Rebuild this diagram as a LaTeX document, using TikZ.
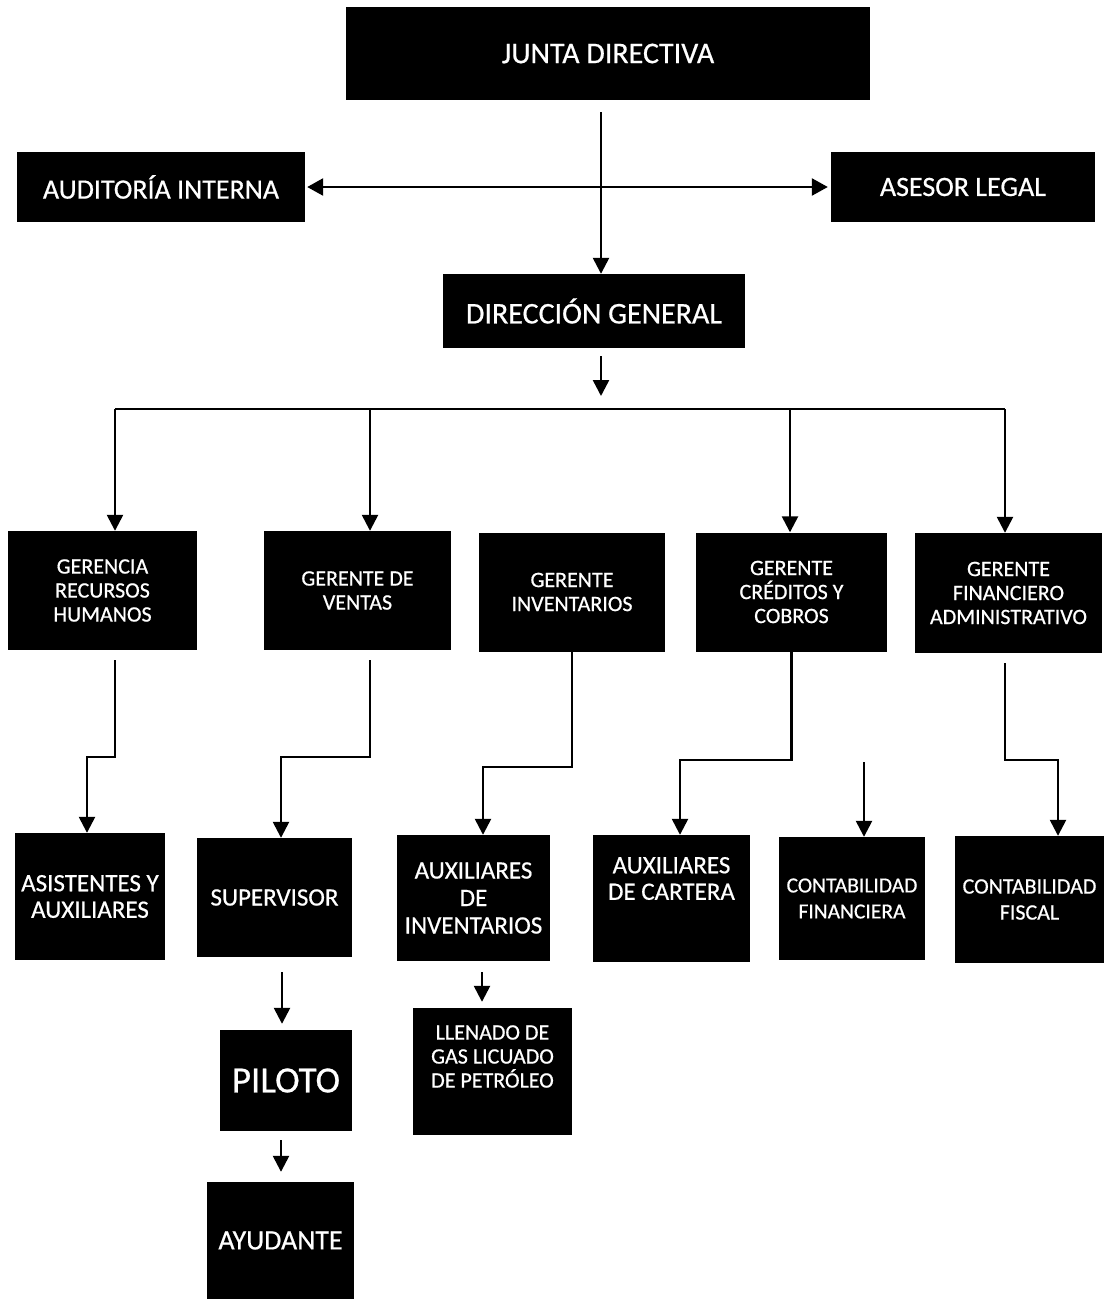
\documentclass[tikz,border=0pt]{standalone}
\usepackage{fontspec}
\setmainfont{Carlito}
\newfontface\boxfont{Carlito}[FakeBold=0.6]
\usetikzlibrary{arrows.meta}
\begin{document}
\begin{tikzpicture}[x=1pt,y=-1pt,
  box/.style={fill=black, text=white, align=center, inner sep=0pt},
  txt/.style={text=white, align=center, inner sep=0pt},
  link/.style={line width=2.5pt, black},
  arr/.style={link, -{Triangle[length=16pt,width=16pt]}},
  biarr/.style={link, {Triangle[length=16pt,width=17pt]}-{Triangle[length=16pt,width=17pt]}},
  fA/.style={font=\boxfont\fontsize{30}{32}\selectfont},
  fB/.style={font=\boxfont\fontsize{28}{30}\selectfont},
  fC/.style={font=\boxfont\fontsize{22}{24}\selectfont},
  fD/.style={font=\boxfont\fontsize{25}{26.5}\selectfont},
  fE/.style={font=\boxfont\fontsize{21.5}{26}\selectfont},
]
\useasboundingbox (0,0) rectangle (1104,1299);

% top level
\node[box, fA, minimum width=524, minimum height=93] (junta) at (608,53.5) {JUNTA DIRECTIVA};
\node[box, fB, minimum width=288, minimum height=70] (audit) at (161,187) {AUDITORÍA INTERNA};
\node[box, fB, minimum width=264, minimum height=70] (asesor) at (963,187) {ASESOR LEGAL};
\node[box, fA, minimum width=302, minimum height=74] (direc) at (594,311) {DIRECCIÓN GENERAL};

% managers
\node[box, fC, minimum width=189, minimum height=119] (grh) at (102.5,590.5) {GERENCIA\\RECURSOS\\HUMANOS};
\node[box, fC, minimum width=187, minimum height=119] (gven) at (357.5,590.5) {GERENTE DE\\VENTAS};
\node[box, fC, minimum width=186, minimum height=119] (ginv) at (572,592) {GERENTE\\INVENTARIOS};
\node[box, fC, minimum width=191, minimum height=119] (gcre) at (791.5,592) {GERENTE\\CRÉDITOS Y\\COBROS};
\node[box, fC, minimum width=187, minimum height=120] (gfin) at (1008.5,593) {GERENTE\\FINANCIERO\\ADMINISTRATIVO};

% staff
\node[box, fD, minimum width=150, minimum height=127] (asis) at (90,896.5) {ASISTENTES Y\\AUXILIARES};
\node[box, fD, minimum width=155, minimum height=119] (sup) at (274.5,897.5) {SUPERVISOR};
\node[box, minimum width=153, minimum height=126, font=\boxfont\fontsize{25}{27.5}\selectfont] (auxinv) at (473.5,898) {AUXILIARES\\DE\\INVENTARIOS};
\node[box, minimum width=157, minimum height=127,
      label={[txt, fD, yshift=20pt]center:{AUXILIARES\\DE CARTERA}}] (auxcar) at (671.5,898.5) {};
\node[box, fE, minimum width=146, minimum height=123] (contfin) at (852,898.5) {CONTABILIDAD\\FINANCIERA};
\node[box, minimum width=149, minimum height=127, font=\boxfont\fontsize{22}{26}\selectfont] (contfis) at (1029.5,899.5) {CONTABILIDAD\\FISCAL};

% operations
\node[box, minimum width=159, minimum height=127,
      label={[txt, fC, yshift=15pt]center:{LLENADO DE\\GAS LICUADO\\DE PETRÓLEO}}] (llen) at (492.5,1071.5) {};
\node[box, font=\boxfont\fontsize{37}{40}\selectfont, minimum width=132, minimum height=101] (piloto) at (286,1080.5) {PILOTO};
\node[box, fB, minimum width=147, minimum height=117] (ayud) at (280.5,1240.5) {AYUDANTE};

% routing points
\coordinate (spine) at (601,0);
\coordinate (bus) at (601,409);
\coordinate (busL) at (115,409);
\coordinate (b2) at (370,409);
\coordinate (b4) at (790,409);
\coordinate (busR) at (1005,409);
\coordinate (j1) at (87,757);
\coordinate (j2) at (281,757);
\coordinate (j3) at (483,767);
\coordinate (j4) at (680,760);
\coordinate (j5) at (864,762);
\coordinate (j6) at (1058,760);
\coordinate (c1) at (282,0);
\coordinate (c2) at (281,0);
\coordinate (c3) at (482,0);

% top connectors
\draw[arr, shorten <=12pt] (junta.south -| spine) -- (direc.north -| spine);
\draw[biarr, shorten <=2pt, shorten >=3pt] (audit.east) -- (asesor.west);
\draw[arr, shorten <=8pt, shorten >=13pt] (direc.south -| spine) -- (bus);

% distribution bus
\draw[link] (busL) -- (busR);
\draw[arr] (busL) -- (busL |- grh.north);
\draw[arr] (b2) -- (b2 |- gven.north);
\draw[arr] (b4) -- (b4 |- gcre.north);
\draw[arr] (busR) -- (busR |- gfin.north);

% managers to staff
\draw[arr, shorten <=10pt] (grh.south -| busL) |- (j1) -- (j1 |- asis.north);
\draw[arr, shorten <=10pt] (gven.south -| b2) |- (j2) -- (j2 |- sup.north);
\draw[arr] (ginv.south) |- (j3) -- (j3 |- auxinv.north);
\draw[arr] (gcre.south) |- (j4) -- (j4 |- auxcar.north);
\draw[arr] (j5) -- (j5 |- contfin.north);
\draw[arr, shorten <=10pt] (gfin.south -| busR) |- (j6) -- (j6 |- contfis.north);

% lower chain
\draw[arr, shorten <=15pt, shorten >=6pt] (sup.south -| c1) -- (piloto.north -| c1);
\draw[arr, shorten <=9pt, shorten >=10pt] (piloto.south -| c2) -- (ayud.north -| c2);
\draw[arr, shorten <=11pt, shorten >=6pt] (auxinv.south -| c3) -- (llen.north -| c3);
\end{tikzpicture}
\end{document}
